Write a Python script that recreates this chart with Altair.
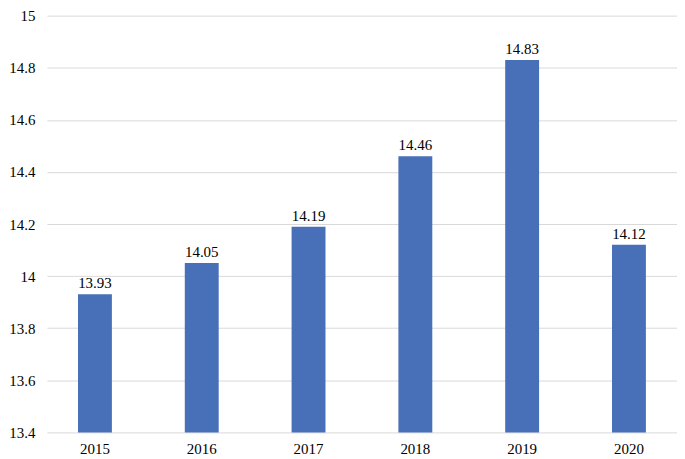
import altair as alt
import pandas as pd

years = ["2015", "2016", "2017", "2018", "2019", "2020"]
values = [13.93, 14.05, 14.19, 14.46, 14.83, 14.12]
y_ticks = [13.4, 13.6, 13.8, 14.0, 14.2, 14.4, 14.6, 14.8, 15.0]
y_min, y_max = 13.4, 15.0

df = pd.DataFrame({"year": years, "value": values})
FONT = "Liberation Serif"

base = alt.Chart(df).encode(
    x=alt.X("year:N", sort=years, title=None,
            scale=alt.Scale(paddingInner=0.1, paddingOuter=0),
            axis=alt.Axis(labelAngle=0, domain=False, ticks=False, labelPadding=9)),
    y=alt.Y("value:Q", title=None,
            scale=alt.Scale(domain=[y_min, y_max], nice=False, zero=False),
            axis=alt.Axis(values=y_ticks, domain=False, ticks=False, labelPadding=12,
                          gridColor="#d9d9d9", gridWidth=1,
                          labelExpr="format(datum.value, '.1~f')")),
)

bars = base.mark_bar(color="#4770B8", size=34).encode(y2=alt.datum(y_min))
labels = base.mark_text(dy=-11, font=FONT, fontSize=15, color="#000").encode(
    text=alt.Text("value:Q", format=".2f"))

chart = (bars + labels).properties(
    width=632, height=418,
    padding={"top": 0, "left": 0, "right": 0, "bottom": 0},
).configure(font=FONT).configure_axis(
    labelFont=FONT, labelFontSize=15, labelColor="#000"
).configure_view(stroke=None)

chart.save("out.html", embed_options={"renderer": "svg", "actions": False})
